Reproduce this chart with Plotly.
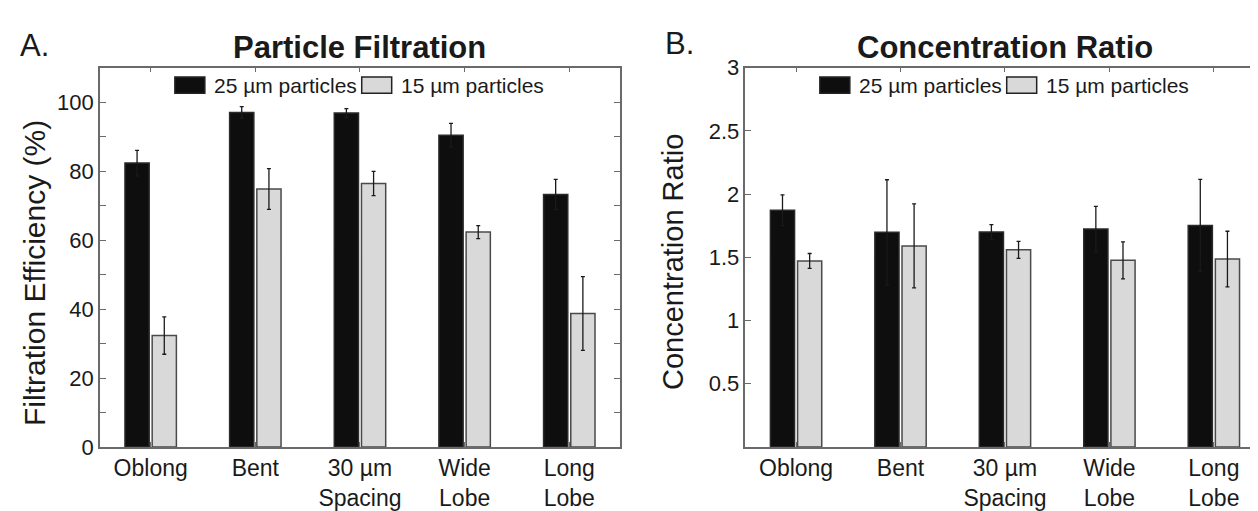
import plotly.graph_objects as go

# ---------------- data ----------------
categories = ["Oblong", "Bent", "30 µm<br>Spacing", "Wide<br>Lobe", "Long<br>Lobe"]
series_names = ["25 µm particles", "15 µm particles"]

filtration_25 = [82.3, 97.0, 96.8, 90.4, 73.2]
filtration_25_err = [3.7, 1.7, 1.3, 3.4, 4.4]
filtration_15 = [32.3, 74.8, 76.4, 62.3, 38.7]
filtration_15_err = [5.4, 5.9, 3.5, 1.9, 10.7]

conc_25 = [1.872, 1.697, 1.699, 1.723, 1.752]
conc_25_err = [0.122, 0.416, 0.06, 0.18, 0.364]
conc_15 = [1.471, 1.590, 1.559, 1.476, 1.486]
conc_15_err = [0.059, 0.332, 0.067, 0.146, 0.22]

left_yticks = list(range(0, 101, 10))
left_yticklabels = [str(v) if v % 20 == 0 else "" for v in left_yticks]
right_yticks = [0.5, 1, 1.5, 2, 2.5, 3]
right_yticklabels = ["0.5", "1", "1.5", "2", "2.5", "3"]

# ---------------- style ----------------
FONT = "Liberation Sans, Arial, Helvetica, sans-serif"
W, H = 1258, 511
BLACK_FILL, BLACK_LINE = "#0e0e0e", "#2a2a2a"
GRAY_FILL, GRAY_LINE = "#d9d9d9", "#4a4a4a"
AXIS_COLOR = "#6a6a6a"
TEXT_COLOR = "#1a1a1a"
series_fill = [BLACK_FILL, GRAY_FILL]
series_line = [BLACK_LINE, GRAY_LINE]

# panel pixel boxes -> paper domains
L_X0, L_X1 = 92, 612
R_X0, R_X1 = 738, 1257
Y_TOP, Y_BOT = 50, 449


def px_x(p):
    return p / W


def px_y(p):
    return 1 - p / H


fig = go.Figure()


def add_bars(xa, ya, vals, errs, k):
    fig.add_trace(go.Bar(
        x=categories, y=vals, name=series_names[k],
        xaxis=xa, yaxis=ya,
        marker=dict(color=series_fill[k], line=dict(color=series_line[k], width=1.5)),
        error_y=dict(type="data", array=errs, visible=True,
                     color="#1a1a1a", thickness=1.3, width=2),
        showlegend=False,
    ))


add_bars("x", "y", filtration_25, filtration_25_err, 0)
add_bars("x", "y", filtration_15, filtration_15_err, 1)
add_bars("x2", "y2", conc_25, conc_25_err, 0)
add_bars("x2", "y2", conc_15, conc_15_err, 1)

common_x = dict(
    type="category", range=[-0.485, 4.48],
    showline=True, linecolor=AXIS_COLOR, linewidth=1.5, mirror="ticks",
    ticks="inside", ticklen=5, tickcolor=AXIS_COLOR, tickwidth=1,
    tickfont=dict(family=FONT, size=23, color=TEXT_COLOR),
    showgrid=False, zeroline=False, fixedrange=True,
)
common_y = dict(
    showline=True, linecolor=AXIS_COLOR, linewidth=1.5, mirror="ticks",
    ticks="inside", ticklen=6, tickcolor=AXIS_COLOR, tickwidth=1,
    tickfont=dict(family=FONT, size=22, color=TEXT_COLOR),
    showgrid=False, zeroline=False, fixedrange=True,
)

fig.update_layout(
    width=W, height=H,
    margin=dict(l=0, r=0, t=0, b=0),
    paper_bgcolor="white", plot_bgcolor="white",
    barmode="group", bargap=0.48, bargroupgap=0.11,
    font=dict(family=FONT, color=TEXT_COLOR),
    xaxis=dict(domain=[px_x(L_X0), px_x(L_X1)], anchor="y", **common_x),
    yaxis=dict(domain=[px_y(Y_BOT), px_y(Y_TOP)], anchor="x", range=[0, 110],
               tickvals=left_yticks, ticktext=left_yticklabels, **common_y),
    xaxis2=dict(domain=[px_x(R_X0), px_x(R_X1)], anchor="y2", **common_x),
    yaxis2=dict(domain=[px_y(Y_BOT), px_y(Y_TOP)], anchor="x2", range=[0, 3],
                tickvals=right_yticks, ticktext=right_yticklabels, **common_y),
    showlegend=False,
)

annotations = [
    dict(text="<b>Particle Filtration</b>", x=px_x((L_X0 + L_X1) / 2), y=px_y(29),
         font=dict(family=FONT, size=31, color=TEXT_COLOR)),
    dict(text="<b>Concentration Ratio</b>", x=px_x((R_X0 + R_X1) / 2), y=px_y(29),
         font=dict(family=FONT, size=31, color=TEXT_COLOR)),
    dict(text="A.", x=px_x(10), y=px_y(27), xanchor="left",
         font=dict(family=FONT, size=31, color=TEXT_COLOR)),
    dict(text="B.", x=px_x(656), y=px_y(25), xanchor="left",
         font=dict(family=FONT, size=31, color=TEXT_COLOR)),
    dict(text="Filtration Efficiency (%)", x=px_x(27), y=px_y(266),
         textangle=-90, font=dict(family=FONT, size=30, color=TEXT_COLOR)),
    dict(text="Concentration Ratio", x=px_x(665), y=px_y(254),
         textangle=-90, font=dict(family=FONT, size=29, color=TEXT_COLOR)),
]

# legend (swatch + label) drawn inside the top of each panel
shapes = []
LEG_Y0, LEG_Y1 = 60, 77
sw_offsets = [(-185, -155), (2, 32)]
txt_offsets = [-148, 39]
for (x0, x1) in [(L_X0, L_X1), (R_X0, R_X1)]:
    cx = (x0 + x1) / 2
    for k in range(2):
        a, b = sw_offsets[k]
        shapes.append(dict(type="rect", xref="paper", yref="paper",
                           x0=px_x(cx + a), x1=px_x(cx + b),
                           y0=px_y(LEG_Y1), y1=px_y(LEG_Y0),
                           fillcolor=series_fill[k],
                           line=dict(color="#222222", width=1.5)))
        annotations.append(dict(text=series_names[k], x=px_x(cx + txt_offsets[k]),
                                y=px_y((LEG_Y0 + LEG_Y1) / 2), xanchor="left",
                                font=dict(family=FONT, size=21, color=TEXT_COLOR)))

for a in annotations:
    a.update(xref="paper", yref="paper", showarrow=False)
    a.setdefault("xanchor", "center")
    a.setdefault("yanchor", "middle")
fig.update_layout(annotations=annotations, shapes=shapes)

fig.write_html("out.html")
